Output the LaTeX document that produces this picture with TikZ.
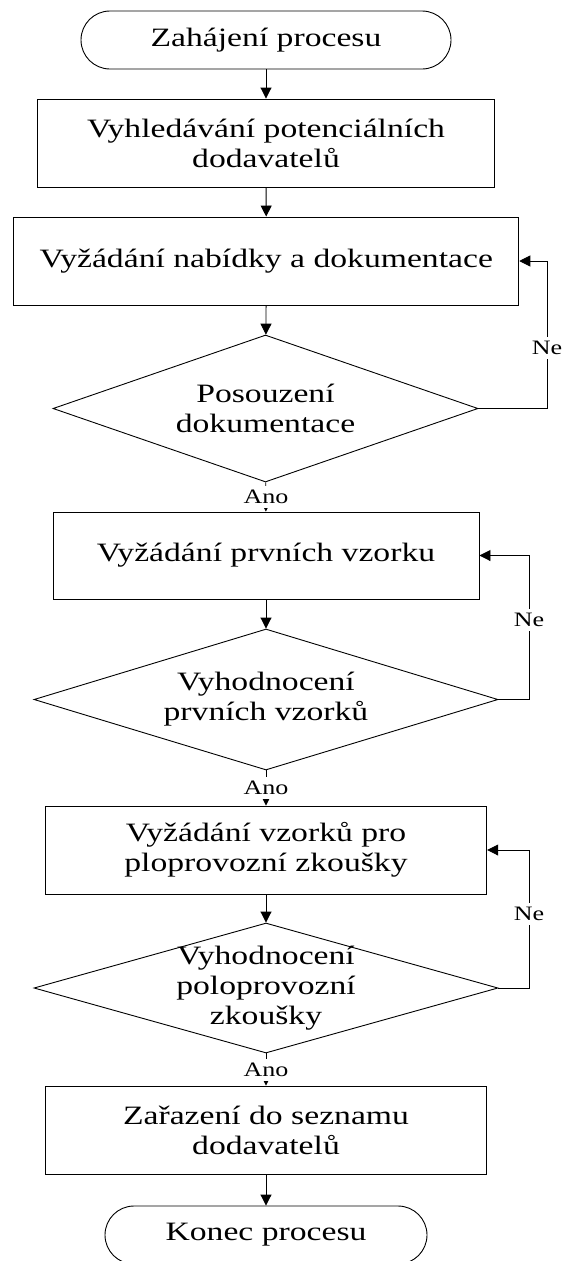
\documentclass[tikz,border=0pt]{standalone}
\usepackage{fontspec}
\setmainfont{Liberation Serif}[FakeStretch=1.27]
\usetikzlibrary{arrows.meta,shapes.geometric}
\begin{document}
\begin{tikzpicture}[x=1pt,y=-1pt,
  line width=0.9pt,
  every node/.style={font=\fontsize{26.5}{30}\selectfont, align=center, inner sep=0pt},
  box/.style={draw, rectangle, minimum height=88pt},
  term/.style={draw, rectangle, rounded corners=29pt, minimum height=58pt},
  dec/.style={draw, diamond},
  lbl/.style={font=\fontsize{20.5}{24}\selectfont, fill=white, minimum height=22pt},
  arr/.style={-{Triangle[length=11pt,width=11pt]}},
]
\useasboundingbox (0,0) rectangle (565,1261);

\node[term, minimum width=370pt] (start) at (266,40) {Zahájení procesu};
\node[box, minimum width=457pt] (b1) at (266,143) {Vyhledávání potenciálních\\dodavatelů};
\node[box, minimum width=505pt] (b2) at (266.3,261) {Vyžádání nabídky a dokumentace};
\node[dec, minimum width=425pt, minimum height=147pt] (d1) at (265.5,408.5) {};
\node (d1t) at (d1) {Posouzení\\dokumentace};
\node[box, minimum width=426pt, minimum height=87pt] (b3) at (266,555.5) {Vyžádání prvních vzorku};
\node[dec, minimum width=464pt, minimum height=141pt] (d2) at (266,699.5) {};
\node (d2t) at (d2) {Vyhodnocení\\prvních vzorků};
\node[box, minimum width=441.5pt] (b4) at (266,850) {Vyžádání vzorků pro\\ploprovozní zkoušky};
\node[dec, minimum width=464pt, minimum height=130pt] (d3) at (266,988) {};
\node (d3t) at (d3) {Vyhodnocení\\poloprovozní\\zkoušky};
\node[box, minimum width=441.5pt] (b5) at (266,1130) {Zařazení do seznamu\\dodavatelů};
\node[term, minimum width=322pt] (end) at (266,1235) {Konec procesu};

\coordinate (l1) at (547,0);
\coordinate (l2) at (529,0);
\coordinate (l3) at (529,0);

\draw[arr] (start) -- (b1);
\draw[arr] (b1) -- (b2);
\draw[arr] (b2) -- (d1);
\draw[arr] (d1) -- (b3);
\draw[arr] (b3) -- (d2);
\draw[arr] (d2) -- (b4);
\draw[arr] (b4) -- (d3);
\draw[arr] (d3) -- (b5);
\draw[arr] (b5) -- (end);

\draw[arr] (d1.east) -- (d1.east -| l1) |- (b2.east);
\draw[arr] (d2.east) -- (d2.east -| l2) |- (b3.east);
\draw[arr] (d3.east) -- (d3.east -| l3) |- (b4.east);

\node[lbl] (ne1) at (547,348) {Ne};
\node[lbl] (ne2) at (529,620) {Ne};
\node[lbl] (ne3) at (529,914) {Ne};
\node[lbl] (ano1) at (266,497) {Ano};
\node[lbl] (ano2) at (266,788) {Ano};
\node[lbl] (ano3) at (266,1070) {Ano};
\end{tikzpicture}
\end{document}
